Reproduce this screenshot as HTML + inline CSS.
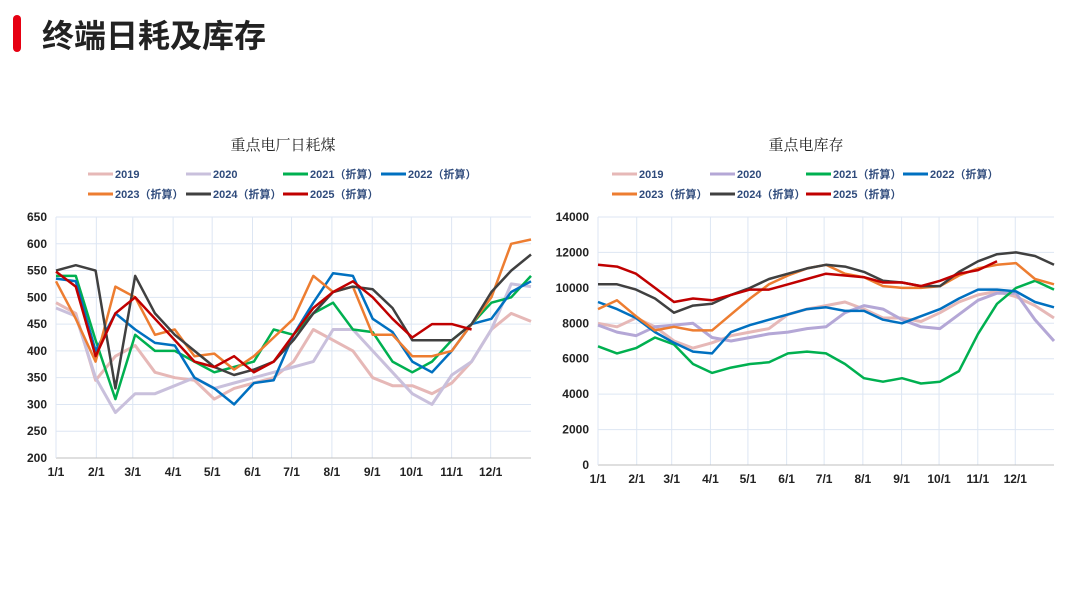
<!DOCTYPE html>
<html><head><meta charset="utf-8">
<style>
body{margin:0;width:1080px;height:597px;background:#fff;overflow:hidden;font-family:"Liberation Sans","Noto Sans CJK SC",sans-serif;}
#root{position:relative;width:1080px;height:597px;}
.bar{position:absolute;left:13px;top:15px;width:8px;height:37px;background:#e60012;border-radius:4px;}
.title{position:absolute;left:42px;top:11px;font-size:32px;font-weight:bold;color:#222;font-family:"Liberation Sans","Noto Sans CJK SC",sans-serif;}
svg{position:absolute;left:0;top:0;}
</style></head>
<body><div id="root">
<div class="bar"></div>
<div class="title">终端日耗及库存</div>
<svg id="svg" width="1080" height="597"></svg>
</div>
<script>
const months=["1/1","2/1","3/1","4/1","5/1","6/1","7/1","8/1","9/1","10/1","11/1","12/1"];
const seriesNames=["2019","2020","2021（折算）","2022（折算）","2023（折算）","2024（折算）","2025（折算）"];
const colors=["#e6b8b7","#c9c0dc","#00b050","#0070c0","#ed7d31","#404040","#c00000"];
const colorsR=["#e6b8b7","#b4a7d6","#00b050","#0070c0","#ed7d31","#404040","#c00000"];
const leftTicks=[200,250,300,350,400,450,500,550,600,650];
const rightTicks=[0,2000,4000,6000,8000,10000,12000,14000];
const consump2019=[490,470,345,390,410,360,350,345,310,330,340,350,380,440,420,400,350,335,335,320,340,380,440,470,455];
const consump2020=[480,465,350,285,320,320,335,350,330,340,350,360,370,380,440,440,400,360,320,300,355,380,440,525,520];
const consump2021=[540,540,420,310,430,400,400,380,360,370,380,440,430,470,490,440,435,380,360,380,420,450,490,500,540];
const consump2022=[535,530,400,470,440,415,410,350,330,300,340,345,430,490,545,540,460,435,380,360,400,450,460,510,530];
const consump2023=[530,460,380,520,500,430,440,390,395,365,390,425,460,540,510,520,430,430,390,390,400,450,500,600,608];
const consump2024=[550,560,550,330,540,470,430,400,370,355,365,380,420,470,510,520,515,480,420,420,420,450,510,550,580];
const consump2025=[548,520,390,470,500,460,420,380,370,390,360,380,430,480,510,530,500,460,425,450,450,440];
const stock2019=[8000,7800,8300,7800,7000,6600,6900,7300,7500,7700,8500,8800,9000,9200,8800,8300,8300,8100,8600,9200,9600,9800,9500,9000,8300];
const stock2020=[7900,7500,7300,7800,7900,8000,7200,7000,7200,7400,7500,7700,7800,8600,9000,8800,8200,7800,7700,8500,9300,9700,9700,8200,7000];
const stock2021=[6700,6300,6600,7200,6800,5700,5200,5500,5700,5800,6300,6400,6300,5700,4900,4700,4900,4600,4700,5300,7400,9100,10000,10400,9900];
const stock2022=[9200,8800,8300,7500,6900,6400,6300,7500,7900,8200,8500,8800,8900,8700,8700,8200,8000,8400,8800,9400,9900,9900,9800,9200,8900];
const stock2023=[8800,9300,8400,7600,7800,7600,7600,8500,9400,10200,10700,11100,11300,10800,10600,10100,10000,10000,10100,10700,11100,11300,11400,10500,10200];
const stock2024=[10200,10200,9900,9400,8600,9000,9100,9600,10000,10500,10800,11100,11300,11200,10900,10400,10300,10100,10100,10900,11500,11900,12000,11800,11300];
const stock2025=[11300,11200,10800,10000,9200,9400,9300,9600,9900,9900,10200,10500,10800,10700,10600,10300,10300,10100,10400,10800,11000,11500];
const consumpAll=[consump2019,consump2020,consump2021,consump2022,consump2023,consump2024,consump2025];
const stockAll=[stock2019,stock2020,stock2021,stock2022,stock2023,stock2024,stock2025];
const svg=document.getElementById('svg');
const NS="http://www.w3.org/2000/svg";
function mk(tag,attrs,txt){const e=document.createElementNS(NS,tag);for(const k in attrs)e.setAttribute(k,attrs[k]);if(txt!==undefined)e.textContent=txt;svg.appendChild(e);return e;}
function chart(cfg){
  const {x0,x1,y0,y1,min,max,ticks,data,cols,title,tx,legX,id}=cfg;
  const X=f=>x0+(x1-x0)*f, Y=v=>y1-(v-min)/(max-min)*(y1-y0);
  let t=mk('text',{x:tx,y:150,'text-anchor':'middle','font-size':15,'font-family':'"Liberation Serif","Noto Serif CJK SC",serif',fill:'#222'},title);
  
  ticks.forEach(v=>{
    let g=mk('line',{x1:x0,x2:x1,y1:Y(v),y2:Y(v),stroke:'#dde6f3','stroke-width':1});
    
    let l=mk('text',{x:x0-9,y:Y(v)+4,'text-anchor':'end','font-size':12,'font-weight':'bold',fill:'#222'},String(v));
    
  });
  months.forEach((m,i)=>{
    const d=[0,31,59,90,120,151,181,212,243,273,304,334][i]/365;
    let g=mk('line',{x1:X(d),x2:X(d),y1:y0,y2:y1,stroke:'#dde6f3','stroke-width':1});
    
    let l=mk('text',{x:X(d),y:y1+18,'text-anchor':'middle','font-size':12,'font-weight':'bold',fill:'#222'},m);
    
  });
  let ax=mk('line',{x1:x0,x2:x1,y1:y1,y2:y1,stroke:'#bfbfbf'});
  
  let ay=mk('line',{x1:x0,x2:x0,y1:y0,y2:y1,stroke:'#dde6f3'});
  
  data.forEach((arr,s)=>{
    const pts=arr.map((v,i)=>X(i/24).toFixed(1)+','+Y(v).toFixed(1)).join(' ');
    let p=mk('polyline',{points:pts,fill:'none',stroke:cols[s],'stroke-width':s<2?3:2.5,'stroke-linejoin':'round'});
    
  });
  const lx=[legX[0],legX[1],legX[2],legX[3],legX[0],legX[1],legX[2]];
  seriesNames.forEach((n,s)=>{
    const ly=s<4?174:194;
    let l=mk('line',{x1:lx[s],x2:lx[s]+25,y1:ly,y2:ly,stroke:cols[s],'stroke-width':3});
    
    let tt=mk('text',{x:lx[s]+27,y:ly+4,'font-size':11,'font-weight':'bold',fill:'#2f4b7c'},n);
    
  });
}
chart({x0:56,x1:531,y0:217,y1:458,min:200,max:650,ticks:leftTicks,data:consumpAll,cols:colors,title:'重点电厂日耗煤',tx:283,legX:[88,186,283,381],id:'consumption'});
chart({x0:598,x1:1054,y0:217,y1:465,min:0,max:14000,ticks:rightTicks,data:stockAll,cols:colorsR,title:'重点电库存',tx:806,legX:[612,710,806,903],id:'stock'});
</script>
</body></html>
